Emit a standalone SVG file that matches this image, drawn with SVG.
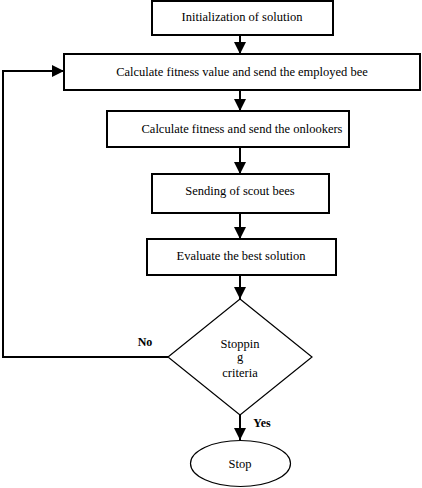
<svg xmlns="http://www.w3.org/2000/svg" width="422" height="488" viewBox="0 0 422 488">
<style>
.box{fill:#fff;stroke:#000;stroke-width:2}
.ln{fill:none;stroke:#000;stroke-width:2}
text{font-family:'Liberation Serif','Times New Roman',serif;font-size:12.5px;fill:#000;text-anchor:middle}
.lbl{font-weight:bold;font-size:12px}
</style>
<defs>
<marker id="ah" viewBox="0 0 12 12" refX="12" refY="6" markerWidth="12" markerHeight="12" markerUnits="userSpaceOnUse" orient="auto">
<path d="M0,0 L12,6 L0,12 Z" fill="#000"/>
</marker>
</defs>
<rect width="422" height="488" fill="#fff"/>
<g id="connectors">
<line class="ln" x1="240" y1="35" x2="240" y2="54" marker-end="url(#ah)"/>
<line class="ln" x1="240" y1="90" x2="240" y2="111" marker-end="url(#ah)"/>
<line class="ln" x1="240" y1="147" x2="240" y2="174" marker-end="url(#ah)"/>
<line class="ln" x1="240" y1="213" x2="240" y2="239" marker-end="url(#ah)"/>
<line class="ln" x1="240" y1="275" x2="240" y2="299" marker-end="url(#ah)"/>
<line class="ln" x1="240" y1="415" x2="240" y2="440" marker-end="url(#ah)"/>
<path class="ln" d="M168,357 H3 V71 H64" marker-end="url(#ah)"/>
<text class="lbl" x="145" y="346">No</text>
<text class="lbl" x="262" y="427">Yes</text>
</g>
<g id="init">
<rect class="box" x="152" y="1" width="181" height="34"/>
<text x="242" y="21">Initialization of solution</text>
</g>
<g id="employed">
<rect class="box" x="64" y="54" width="356" height="36"/>
<text x="242" y="76">Calculate fitness value and send the employed bee</text>
</g>
<g id="onlookers">
<rect class="box" x="107" y="111" width="242" height="36"/>
<text x="242" y="133">Calculate fitness and send the onlookers</text>
</g>
<g id="scout">
<rect class="box" x="152" y="174" width="177" height="39"/>
<text x="240" y="195">Sending of scout bees</text>
</g>
<g id="evaluate">
<rect class="box" x="147" y="239" width="189" height="36"/>
<text x="241" y="260">Evaluate the best solution</text>
</g>
<g id="decision">
<path d="M240,299 L312,357 L240,415 L168,357 Z" fill="#fff" stroke="#000" stroke-width="1.2"/>
<text x="240" y="348">Stoppin</text>
<text x="240" y="361">g</text>
<text x="240" y="377">criteria</text>
</g>
<g id="stop">
<ellipse cx="240.5" cy="463.5" rx="50" ry="23" fill="#fff" stroke="#000" stroke-width="1.2"/>
<text x="240" y="468">Stop</text>
</g>
</svg>
